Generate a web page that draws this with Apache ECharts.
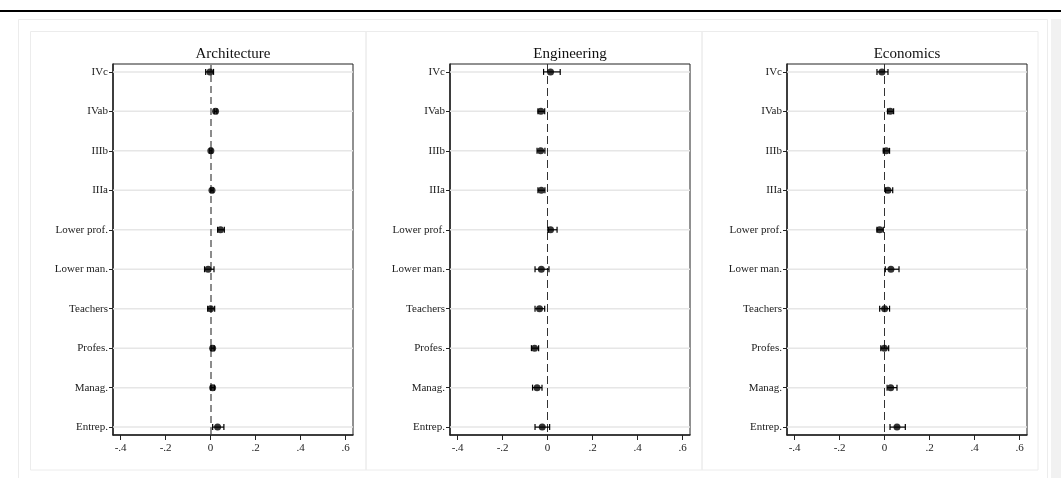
<!DOCTYPE html>
<html>
<head>
<meta charset="utf-8">
<script src="https://cdn.jsdelivr.net/npm/echarts@6/dist/echarts.min.js"></script>
<style>
html,body{margin:0;padding:0;background:#fff;}
#c{width:1061px;height:478px;}
</style>
</head>
<body>
<div id="c"></div>
<script>
// ---- data ----
const categories = ['IVc','IVab','IIIb','IIIa','Lower prof.','Lower man.','Teachers','Profes.','Manag.','Entrep.'];
const panelTitles = ['Architecture','Engineering','Economics'];

const archEst = [-0.003, 0.022, 0.001, 0.006, 0.044, -0.011, 0.000, 0.009, 0.009, 0.031];
const archLo  = [-0.022, 0.016, -0.004, 0.001, 0.031, -0.027, -0.013, 0.002, 0.001, 0.009];
const archHi  = [0.013, 0.028, 0.006, 0.011, 0.061, 0.015, 0.018, 0.016, 0.017, 0.059];

const engEst = [0.013, -0.030, -0.031, -0.028, 0.013, -0.028, -0.036, -0.058, -0.047, -0.024];
const engLo  = [-0.018, -0.043, -0.047, -0.043, 0.003, -0.056, -0.056, -0.072, -0.067, -0.056];
const engHi  = [0.056, -0.013, -0.012, -0.012, 0.042, 0.006, -0.013, -0.040, -0.025, 0.009];

const ecoEst = [-0.012, 0.025, 0.007, 0.015, -0.022, 0.028, 0.000, -0.001, 0.027, 0.055];
const ecoLo  = [-0.034, 0.013, -0.006, 0.004, -0.034, 0.003, -0.022, -0.017, 0.011, 0.024];
const ecoHi  = [0.015, 0.040, 0.022, 0.036, -0.006, 0.064, 0.022, 0.018, 0.055, 0.092];

const xTicks = [-0.4, -0.2, 0, 0.2, 0.4, 0.6];
const xTickLabels = ['-.4', '-.2', '0', '.2', '.4', '.6'];

// ---- build ----
const FONT = 'Liberation Serif';
const est = [archEst, engEst, ecoEst];
const lo = [archLo, engLo, ecoLo];
const hi = [archHi, engHi, ecoHi];
const gridLefts = [113, 450, 787];
const GW = 240, GT = 64, GH = 371;
const zeroStyles = [
  {color: '#8c8c8c', width: 2, type: [7, 4]},
  {color: '#333333', width: 1, type: [8, 4]},
  {color: '#333333', width: 1, type: [8, 4]}
];
const yVals = categories.map((c, i) => i + 1);

function xLabel(v) {
  let best = 0, bd = 1e9;
  xTicks.forEach((t, i) => { const d = Math.abs(t - v); if (d < bd) { bd = d; best = i; } });
  return xTickLabels[best];
}

const grids = [], xAxes = [], yAxes = [], series = [], graphics = [];

graphics.push({type: 'rect', shape: {x: 0, y: 10, width: 1061, height: 2}, style: {fill: '#000'}, silent: true});
graphics.push({type: 'rect', shape: {x: 18.5, y: 19.5, width: 1029, height: 470}, style: {fill: 'none', stroke: '#ececec', lineWidth: 1}, silent: true});
graphics.push({type: 'rect', shape: {x: 1051, y: 19, width: 10, height: 460}, style: {fill: '#f1f1f1'}, silent: true});
[[30.5, 335.5], [366, 336], [702, 336]].forEach(p => {
  graphics.push({type: 'rect', shape: {x: p[0], y: 31.5, width: p[1], height: 438.5}, style: {fill: 'none', stroke: '#ececec', lineWidth: 1}, silent: true});
});

panelTitles.forEach((t, k) => {
  graphics.push({type: 'text', x: gridLefts[k] + GW / 2, y: 54,
    style: {text: t, font: '15px "' + FONT + '"', fill: '#111', align: 'center', verticalAlign: 'middle'}, silent: true});

  grids.push({left: gridLefts[k], top: GT, width: GW, height: GH, show: true,
    borderColor: '#222', borderWidth: 1, backgroundColor: '#fff'});

  xAxes.push({type: 'value', gridIndex: k, min: -0.434, max: 0.633,
    axisLine: {show: true, onZero: false, lineStyle: {color: '#222', width: 1.5}},
    axisTick: {show: true, length: 5, customValues: xTicks, lineStyle: {color: '#222'}},
    axisLabel: {show: true, customValues: xTicks, margin: 8, fontFamily: FONT, fontSize: 11, color: '#222',
      formatter: v => xLabel(v)},
    splitLine: {show: false}});

  yAxes.push({type: 'value', gridIndex: k, inverse: true, min: 0.8, max: 10.2,
    axisLine: {show: true, onZero: false, lineStyle: {color: '#222', width: 1.5}},
    axisTick: {show: true, length: 4, customValues: yVals, lineStyle: {color: '#222'}},
    axisLabel: {show: true, customValues: yVals, margin: 5, fontFamily: FONT, fontSize: 11, color: '#222',
      formatter: v => categories[Math.round(v) - 1] || ''},
    splitLine: {show: false}});

  // horizontal grid lines at each category
  series.push({type: 'custom', xAxisIndex: k, yAxisIndex: k, silent: true, z: 1,
    data: yVals.map(v => [0, v]), encode: {x: 0, y: 1},
    renderItem: (params, api) => {
      const cs = params.coordSys;
      const y = api.coord([0, api.value(1)])[1];
      return {type: 'line', shape: {x1: cs.x, y1: y, x2: cs.x + cs.width, y2: y},
        style: {stroke: '#e6e6e6', lineWidth: 1.5}};
    }});

  // confidence intervals
  series.push({type: 'custom', xAxisIndex: k, yAxisIndex: k, silent: true, z: 3,
    data: categories.map((c, i) => [lo[k][i], hi[k][i], i + 1]), encode: {x: [0, 1], y: 2},
    renderItem: (params, api) => {
      const p1 = api.coord([api.value(0), api.value(2)]);
      const p2 = api.coord([api.value(1), api.value(2)]);
      const st = {stroke: '#000', lineWidth: 1.2};
      return {type: 'group', children: [
        {type: 'line', shape: {x1: p1[0], y1: p1[1], x2: p2[0], y2: p2[1]}, style: st},
        {type: 'line', shape: {x1: p1[0], y1: p1[1] - 3, x2: p1[0], y2: p1[1] + 3}, style: st},
        {type: 'line', shape: {x1: p2[0], y1: p2[1] - 3, x2: p2[0], y2: p2[1] + 3}, style: st}
      ]};
    }});

  // point estimates + zero reference line
  series.push({type: 'scatter', xAxisIndex: k, yAxisIndex: k, z: 4, silent: true,
    symbol: 'circle', symbolSize: 7, itemStyle: {color: '#000'},
    data: categories.map((c, i) => [est[k][i], i + 1]),
    markLine: {silent: true, symbol: ['none', 'none'], label: {show: false}, z: 2,
      lineStyle: zeroStyles[k], data: [{xAxis: 0}]}});
});

const chart = echarts.init(document.getElementById('c'), null, {renderer: 'canvas'});
chart.setOption({
  animation: false,
  backgroundColor: '#fff',
  grid: grids, xAxis: xAxes, yAxis: yAxes, series: series, graphic: graphics
});
</script>
</body>
</html>
